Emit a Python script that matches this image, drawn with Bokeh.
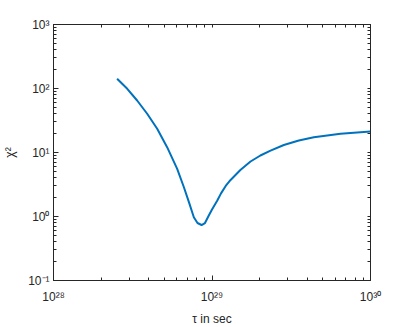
from bokeh.plotting import figure
from bokeh.models import LogAxis, CustomJSTickFormatter, Range1d, FixedTicker
from bokeh.embed import file_html
from bokeh.resources import INLINE

# data
tau = [2.52e28, 2.92e28, 3.37e28, 3.90e28, 4.51e28, 5.21e28, 6.03e28, 6.64e28,
       7.16e28, 7.68e28, 8.10e28, 8.59e28, 9.03e28, 9.51e28, 1.00e29, 1.08e29,
       1.14e29, 1.22e29, 1.31e29, 1.51e29, 1.75e29, 2.02e29, 2.34e29, 2.84e29,
       3.53e29, 4.39e29, 6.47e29, 1.0e30]
chi2 = [142, 98.9, 64.9, 40.3, 23.5, 12.1, 5.56, 2.89,
        1.66, 0.975, 0.791, 0.736, 0.791, 1.02, 1.29, 1.78,
        2.30, 3.00, 3.72, 5.33, 7.23, 8.98, 10.7, 13.1,
        15.4, 17.3, 19.6, 21.3]
x_ticks = [1e28, 1e29, 1e30]
y_ticks = [1e-1, 1e0, 1e1, 1e2, 1e3]

AX = "#262626"
FONT = "Liberation Sans"

def minors(decades):
    return [m * d for d in decades[:-1] for m in range(2, 10)]

x_minor = minors(x_ticks)
y_minor = minors(y_ticks)

sup_code = """
const e = Math.round(Math.log10(tick));
const m = {'0':'\u2070','1':'\u00b9','2':'\u00b2','3':'\u00b3','4':'\u2074','5':'\u2075','6':'\u2076','7':'\u2077','8':'\u2078','9':'\u2079','-':'\u207b'};
let s = '';
for (const c of String(e)) s += m[c];
return '10' + s;
"""

p = figure(frame_width=317, frame_height=256, x_axis_type="log", y_axis_type="log",
           x_range=Range1d(x_ticks[0], x_ticks[-1]), y_range=Range1d(y_ticks[0], y_ticks[-1]),
           output_backend="svg", toolbar_location=None,
           min_border_left=45, min_border_right=20, min_border_top=24, min_border_bottom=10)
p.grid.visible = False
p.outline_line_color = AX
p.background_fill_color = "white"

p.line(tau, chi2, line_color="#0072BD", line_width=2)

def style(ax, ticks, minor, labels=True):
    ax.axis_line_color = AX
    ax.major_tick_line_color = AX
    ax.minor_tick_line_color = AX
    ax.major_tick_line_width = 1
    ax.minor_tick_line_width = 1
    ax.major_tick_in = 5
    ax.major_tick_out = 0
    ax.minor_tick_in = 3
    ax.minor_tick_out = 0
    ax.major_label_text_font = FONT
    ax.major_label_text_font_size = "12px"
    ax.major_label_text_color = AX
    ax.axis_label_text_font = FONT
    ax.axis_label_text_font_size = "12px"
    ax.axis_label_text_font_style = "normal"
    ax.axis_label_text_color = AX
    if labels:
        ax.ticker = FixedTicker(ticks=ticks, minor_ticks=minor)
        ax.formatter = CustomJSTickFormatter(code=sup_code)
    else:
        ax.ticker = FixedTicker(ticks=[], minor_ticks=ticks + minor)

xa = p.xaxis[0]
ya = p.yaxis[0]
style(xa, x_ticks, x_minor)
style(ya, y_ticks, y_minor)
xa.axis_label = "τ in sec"
ya.axis_label = "χ²"
xa.major_label_standoff = 9
ya.major_label_standoff = 4
xa.axis_label_standoff = 5
ya.axis_label_standoff = 8

top = LogAxis()
right = LogAxis()
style(top, x_ticks, x_minor, labels=False)
style(right, y_ticks, y_minor, labels=False)
p.add_layout(top, "above")
p.add_layout(right, "right")

open("out.html", "w").write(file_html(p, INLINE))
